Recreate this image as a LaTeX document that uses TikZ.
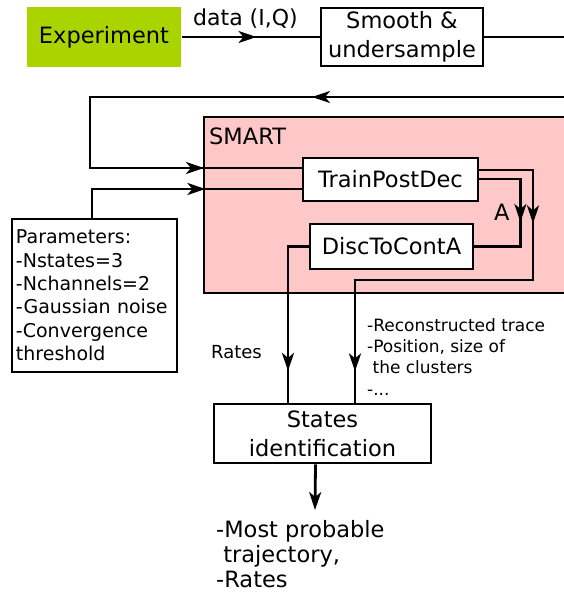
\documentclass[tikz,border=0pt]{standalone}
\usepackage{fontspec}
\setmainfont{DejaVu Sans}
\definecolor{expgreen}{RGB}{170, 212, 0}
\definecolor{smartpink}{RGB}{255, 200, 200}
\usetikzlibrary{arrows.meta, decorations.markings}

\begin{document}
\begin{tikzpicture}[
  x=1pt, y=-1pt,
  >={Stealth[length=18pt, width=12pt, inset=5pt]},
  box/.style={draw, line width=2.8pt, fill=white, align=center, inner sep=0pt,
              font=\fontsize{22.5}{29}\selectfont},
  conn/.style={line width=2.8pt},
  arrowat/.style={postaction={decorate, decoration={markings,
              mark=at position #1 with {\arrow{>}}}}},
  note/.style={align=left, inner sep=0pt, anchor=base west}
]
  \useasboundingbox (0,0) rectangle (564,602);

  \node[draw, line width=2.8pt, fill=smartpink, minimum width=371pt,
        minimum height=176pt] (smart) at (389.5,205) {};
  \node[note, font=\fontsize{22.5}{27}\selectfont] (smartlbl) at (209,144) {SMART};

  \node[box, fill=expgreen, draw=none, minimum width=154pt, minimum height=60pt]
    (exp) at (104,37) {Experiment};
  \node[box, minimum width=162pt, minimum height=58pt]
    (smooth) at (402,37) {Smooth \&\\undersample};
  \node[box, minimum width=175pt, minimum height=43pt]
    (train) at (390.5,179.5) {TrainPostDec};
  \node[box, minimum width=163pt, minimum height=45pt]
    (disc) at (391.5,246.5) {DiscToContA};
  \node[box, align=left, text width=157pt, inner xsep=4pt, minimum height=153pt,
        font=\fontsize{19}{23.4}\selectfont] (params) at (94.5,295.5)
    {Parameters:\\-Nstates=3\\-Nchannels=2\\-Gaussian noise\\-Convergence\\threshold};
  \node[box, minimum width=217pt, minimum height=59pt]
    (states) at (322.5,433.5) {States\\identification};

  % multi-line notes sit on the baseline of their last line
  \node[note, font=\fontsize{22}{26}\selectfont] (datalbl) at (193,26) {data (I,Q)};
  \node[note, font=\fontsize{22.5}{27}\selectfont] (albl) at (494,220) {A};
  \node[note, font=\fontsize{18}{22}\selectfont] (rateslbl) at (211,358) {Rates};
  \node[note, font=\fontsize{17}{21.3}\selectfont] (infolbl) at (367,395)
    {-Reconstructed trace\\-Position, size of\\~the clusters\\-...};
  \node[note, font=\fontsize{22.5}{25}\selectfont] (result) at (216,587)
    {-Most probable\\~trajectory,\\-Rates};

  \coordinate (rmid) at (570,37);
  \coordinate (rtop) at (570,97);
  \coordinate (loopx) at (90,97);
  \coordinate (outR) at (533,280);
  \coordinate (outL) at (355,280);
  \coordinate (resend) at (315,510);

  \draw[conn, arrowat=0.54] (exp.east) -- (smooth.west);
  \draw[conn] (smooth.east) -- (rmid);
  \draw[conn, arrowat=258pt, arrowat=665pt] (rtop) -- (loopx) |- ([yshift=11.5pt]train.west);
  \draw[conn, arrowat=142pt] ([xshift=-2.5pt]params.north) |- ([yshift=-9.5pt]train.west);
  \draw[conn, arrowat=107pt, arrowat=433pt] ([yshift=9.5pt]train.east) -| (outR) -- (outL) -- (outL |- states.north);
  \draw[conn, arrowat=84pt] ([yshift=0.5pt]train.east) -| ([xshift=46pt]disc.east) -- (disc.east);
  \draw[conn, arrowat=145pt] (disc.west) -| ([xshift=-34.5pt]states.north);
  \draw[conn, ->] ([xshift=-7pt]states.south) -- (resend);
\end{tikzpicture}
\end{document}
